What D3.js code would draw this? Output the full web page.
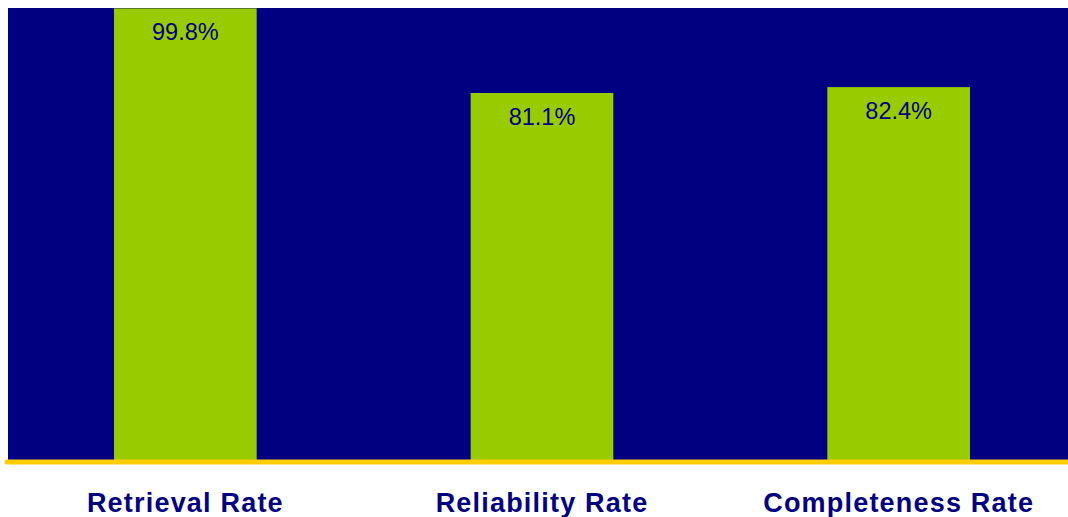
<!DOCTYPE html>
<html>
<head>
<meta charset="utf-8">
<script src="https://cdn.jsdelivr.net/npm/d3@7"></script>
<style>
  html, body { margin: 0; padding: 0; background: #ffffff; }
  svg { display: block; }
</style>
</head>
<body>
<svg id="chart" width="1068" height="517"></svg>
<script>
// Quality metrics, in percent
const categories = ["Retrieval Rate", "Reliability Rate", "Completeness Rate"];
const values = [99.8, 81.1, 82.4];
const valueLabels = ["99.8%", "81.1%", "82.4%"];

const svg = d3.select("#chart");
const plot = { left: 8, top: 8, right: 1068, bottom: 460 };

const x = d3.scaleBand()
  .domain(categories)
  .range([7, 1077])
  .paddingInner(0.6)
  .paddingOuter(0.3);

const y = d3.scaleLinear()
  .domain([0, 100])
  .range([plot.bottom, 7.5]);

svg.append("defs").append("clipPath").attr("id", "plotClip")
  .append("rect")
  .attr("x", plot.left).attr("y", plot.top)
  .attr("width", plot.right - plot.left).attr("height", plot.bottom - plot.top);

// Plot background
svg.append("rect")
  .attr("x", plot.left).attr("y", plot.top)
  .attr("width", plot.right - plot.left).attr("height", plot.bottom - plot.top)
  .attr("fill", "#000080");

const data = categories.map((c, i) => ({ c, v: values[i], label: valueLabels[i] }));

// Bars
svg.append("g").attr("clip-path", "url(#plotClip)")
  .selectAll("rect").data(data).join("rect")
  .attr("x", d => x(d.c))
  .attr("width", x.bandwidth())
  .attr("y", d => y(d.v))
  .attr("height", d => y(0) - y(d.v))
  .attr("fill", "#99CC00");

// Value labels inside the bars
svg.append("g").selectAll("text").data(data).join("text")
  .attr("x", d => x(d.c) + x.bandwidth() / 2)
  .attr("y", d => Math.max(y(d.v), plot.top) + 32)
  .attr("text-anchor", "middle")
  .attr("font-family", "Liberation Sans, Arial, sans-serif")
  .attr("font-size", 23.5)
  .attr("fill", "#000080")
  .text(d => d.label);

// Baseline
svg.append("line")
  .attr("x1", 7).attr("x2", 1070)
  .attr("y1", 462).attr("y2", 462)
  .attr("stroke", "#FFCC00")
  .attr("stroke-width", 5)
  .attr("stroke-linecap", "round");

// Category axis labels
const xAxis = d3.axisBottom(x).tickSize(0).tickPadding(0);
const gx = svg.append("g").attr("transform", "translate(0,512)").call(xAxis);
gx.select(".domain").remove();
gx.selectAll("text")
  .attr("dy", 0)
  .attr("font-family", "Liberation Sans, Arial, sans-serif")
  .attr("font-weight", "bold")
  .attr("font-size", 27)
  .attr("letter-spacing", "1.2px")
  .attr("fill", "#000080");
</script>
</body>
</html>
